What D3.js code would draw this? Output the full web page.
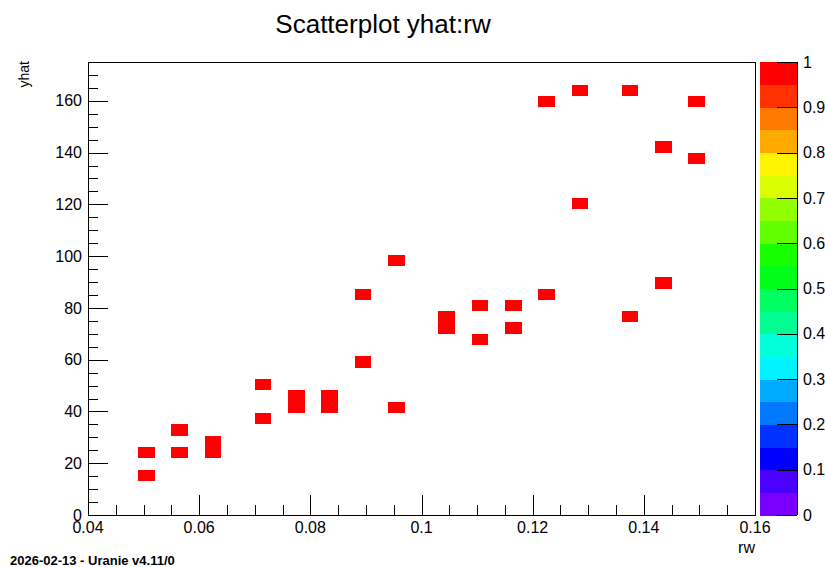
<!DOCTYPE html>
<html>
<head>
<meta charset="utf-8">
<script src="https://cdn.jsdelivr.net/npm/d3@7"></script>
<style>
  html, body { margin: 0; padding: 0; background: #fff; }
  svg { display: block; font-family: "Liberation Sans", Arial, Helvetica, sans-serif; }
</style>
</head>
<body>
<svg id="chart" width="825" height="567"></svg>
<script>
// ---- data (bin centres of filled cells) ----
const rwValues = [0.0505, 0.0505, 0.0565, 0.0565, 0.0625, 0.0625, 0.0715, 0.0715,
                  0.0775, 0.0775, 0.0835, 0.0835, 0.0895, 0.0895, 0.0955, 0.0955,
                  0.1045, 0.1045, 0.1105, 0.1105, 0.1165, 0.1165, 0.1225, 0.1225,
                  0.1285, 0.1285, 0.1375, 0.1375, 0.1435, 0.1435, 0.1495, 0.1495];
const yhatValues = [24.1, 15.3, 32.8, 24.1, 24.1, 28.4, 50.3, 37.2,
                    41.6, 45.9, 41.6, 45.9, 85.3, 59.1, 98.4, 41.6,
                    72.2, 76.6, 80.9, 67.8, 80.9, 72.2, 85.3, 159.7,
                    164.1, 120.3, 164.1, 76.6, 142.2, 89.7, 159.7, 137.8];
const xDomain = [0.04, 0.16];
const yDomain = [0, 175];
const nBinsX = 40, nBinsY = 40;
const xTickValues = [0.04, 0.06, 0.08, 0.1, 0.12, 0.14, 0.16];
const xTickLabels = ["0.04", "0.06", "0.08", "0.1", "0.12", "0.14", "0.16"];
const yTickValues = [0, 20, 40, 60, 80, 100, 120, 140, 160];
const zTickValues = [0, 0.1, 0.2, 0.3, 0.4, 0.5, 0.6, 0.7, 0.8, 0.9, 1];
const zTickLabels = ["0", "0.1", "0.2", "0.3", "0.4", "0.5", "0.6", "0.7", "0.8", "0.9", "1"];
const zDomain = [0, 1];
const nContours = 20;

// ---- layout ----
const svg = d3.select("#chart");
const L = 88, R = 755, T = 62, B = 515;
const cbL = 760, cbR = 797;
const fontSize = 16;

const x = d3.scaleLinear().domain(xDomain).range([L, R]);
const y = d3.scaleLinear().domain(yDomain).range([B, T]);
const zy = d3.scaleLinear().domain(zDomain).range([B, T]);

// palette (ROOT-like rainbow, 50 colours, sampled to 20 contours)
const paletteColor = k => {
  const idx = Math.floor((k + 0.99) * 50 / nContours);
  const hue = 280 * (1 - Math.min(idx, 49) / 49);
  return d3.hsl(hue, 1, 0.5).formatHex();
};
const colorOf = v => {
  let k = Math.floor((v - zDomain[0]) / (zDomain[1] - zDomain[0]) * nContours);
  k = Math.max(0, Math.min(nContours - 1, k));
  return paletteColor(k);
};

// ---- bin the values ----
const dx = (xDomain[1] - xDomain[0]) / nBinsX;
const dy = (yDomain[1] - yDomain[0]) / nBinsY;
const cells = d3.rollups(
  d3.range(rwValues.length),
  v => v.length,
  i => Math.floor((rwValues[i] - xDomain[0]) / dx),
  i => Math.floor((yhatValues[i] - yDomain[0]) / dy)
).flatMap(([ix, arr]) => arr.map(([iy, n]) => ({ix, iy, n})));
const maxCount = d3.max(cells, d => d.n);

// cells
svg.append("g").selectAll("rect").data(cells).join("rect")
  .attr("x", d => x(xDomain[0] + d.ix * dx))
  .attr("y", d => y(yDomain[0] + (d.iy + 1) * dy))
  .attr("width", d => x(xDomain[0] + (d.ix + 1) * dx) - x(xDomain[0] + d.ix * dx))
  .attr("height", d => y(yDomain[0] + d.iy * dy) - y(yDomain[0] + (d.iy + 1) * dy))
  .attr("fill", d => colorOf(d.n / maxCount))
  .attr("shape-rendering", "crispEdges");

// frame
svg.append("rect").attr("x", L).attr("y", T).attr("width", R - L).attr("height", B - T)
  .attr("fill", "none").attr("stroke", "#000").attr("stroke-width", 1)
  .attr("shape-rendering", "crispEdges");

// x axis ticks
const xMinor = d3.range(0, 25).map(i => xDomain[0] + i * 0.005);
svg.append("g").selectAll("line").data(xMinor).join("line")
  .attr("x1", d => Math.round(x(d)) + 0.5).attr("x2", d => Math.round(x(d)) + 0.5)
  .attr("y1", B).attr("y2", (d, i) => i % 4 === 0 ? B - 20 : B - 10)
  .attr("stroke", "#000");
svg.append("g").selectAll("text").data(xTickValues).join("text")
  .attr("x", d => x(d)).attr("y", 533)
  .attr("text-anchor", "middle").attr("font-size", fontSize)
  .text((d, i) => xTickLabels[i]);

// y axis ticks
const yMinor = d3.range(0, 36).map(i => i * 5);
svg.append("g").selectAll("line").data(yMinor).join("line")
  .attr("x1", L).attr("x2", (d, i) => i % 4 === 0 ? L + 20 : L + 10)
  .attr("y1", d => Math.round(y(d)) + 0.5).attr("y2", d => Math.round(y(d)) + 0.5)
  .attr("stroke", "#000");
svg.append("g").selectAll("text").data(yTickValues).join("text")
  .attr("x", 82).attr("y", d => y(d)).attr("dy", "0.35em")
  .attr("text-anchor", "end").attr("font-size", fontSize)
  .text(d => d);

// axis titles
svg.append("text").attr("x", R).attr("y", 553).attr("text-anchor", "end")
  .attr("font-size", fontSize).text("rw");
svg.append("text").attr("transform", `translate(29,${T - 1}) rotate(-90)`)
  .attr("text-anchor", "end").attr("font-size", 14).text("yhat");

// title
svg.append("text").attr("x", 383).attr("y", 33).attr("text-anchor", "middle")
  .attr("font-size", 26).text("Scatterplot yhat:rw");

// colour bar
svg.append("g").selectAll("rect").data(d3.range(nContours)).join("rect")
  .attr("x", cbL).attr("width", cbR - cbL)
  .attr("y", k => zy(zDomain[0] + (k + 1) * (zDomain[1] - zDomain[0]) / nContours))
  .attr("height", k => zy(zDomain[0] + k * (zDomain[1] - zDomain[0]) / nContours) - zy(zDomain[0] + (k + 1) * (zDomain[1] - zDomain[0]) / nContours) + 0.5)
  .attr("fill", k => paletteColor(k))
  .attr("shape-rendering", "crispEdges");
svg.append("line").attr("x1", cbR + 0.5).attr("x2", cbR + 0.5).attr("y1", T).attr("y2", B)
  .attr("stroke", "#000");
svg.append("g").selectAll("line").data(zTickValues).join("line")
  .attr("x1", cbR - 20).attr("x2", cbR)
  .attr("y1", d => Math.round(zy(d)) + 0.5).attr("y2", d => Math.round(zy(d)) + 0.5)
  .attr("stroke", "#000");
svg.append("g").selectAll("text").data(zTickValues).join("text")
  .attr("x", 803).attr("y", d => zy(d)).attr("dy", "0.35em")
  .attr("font-size", fontSize)
  .text((d, i) => zTickLabels[i]);

// footer
svg.append("text").attr("x", 10).attr("y", 565).attr("font-size", 13)
  .attr("font-weight", "bold").text("2026-02-13 - Uranie v4.11/0");
</script>
</body>
</html>
